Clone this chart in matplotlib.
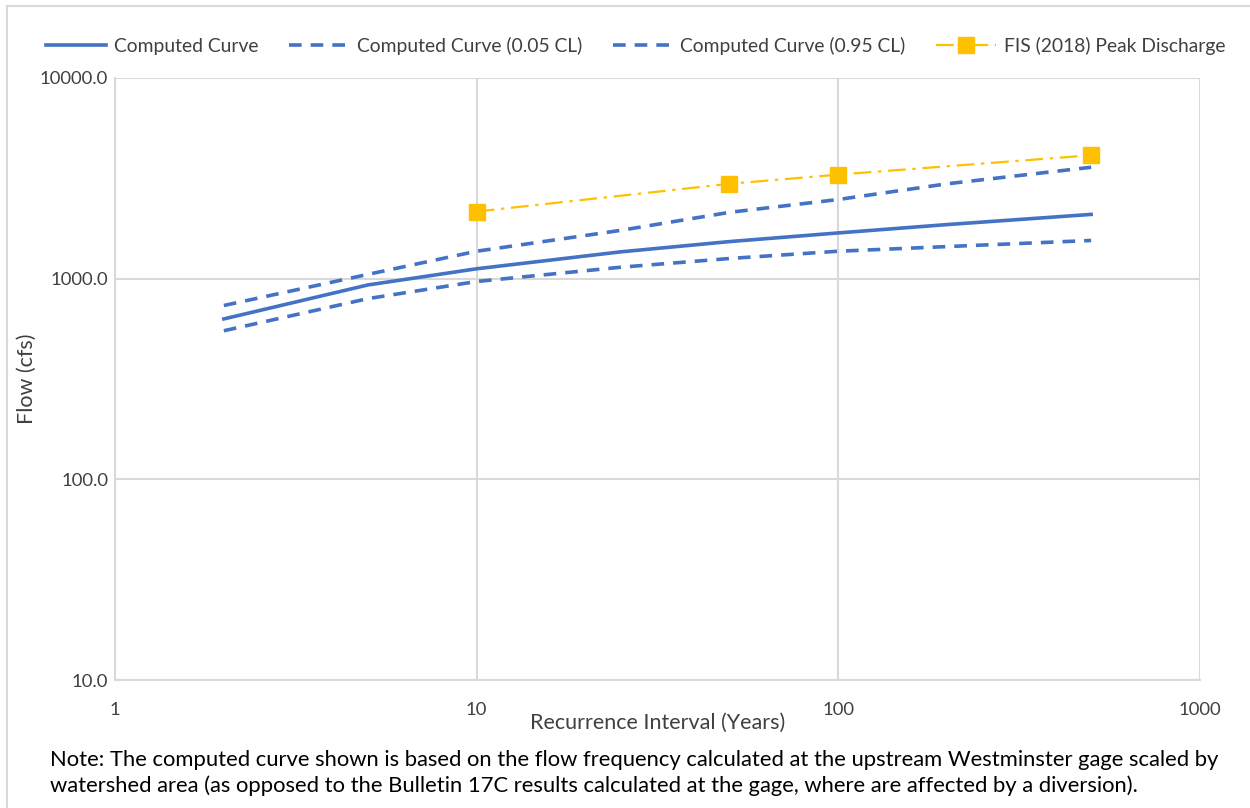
import matplotlib
matplotlib.use("Agg")
import matplotlib.pyplot as plt
from matplotlib.lines import Line2D
from matplotlib.ticker import FixedLocator, FixedFormatter, NullLocator

plt.rcParams['font.family'] = ['Lato', 'DejaVu Sans']

# Datos
intervalo = [2, 5, 10, 25, 50, 100, 200, 500]
curva = [630, 930, 1120, 1360, 1530, 1690, 1860, 2090]
curva_005 = [735, 1050, 1370, 1740, 2140, 2480, 2970, 3590]
curva_095 = [550, 795, 968, 1140, 1260, 1370, 1445, 1550]

fis_intervalo = [10, 50, 100, 500]
fis_caudal = [2160, 2970, 3300, 4120]

x_ticks = [1, 10, 100, 1000]
x_labels = ['1', '10', '100', '1000']
y_ticks = [10, 100, 1000, 10000]
y_labels = ['10.0', '100.0', '1000.0', '10000.0']

azul = '#4472C4'
oro = '#FFC000'
gris = '#D9D9D9'
texto = '#404040'

fig = plt.figure(figsize=(12.5, 8.08), dpi=100)
ax = fig.add_axes([0.092, 0.1584, 0.868, 0.7451])

ax.plot(intervalo, curva, color=azul, lw=2.6, label='Computed Curve', zorder=3)
ax.plot(intervalo, curva_005, color=azul, lw=2.6, ls=(0, (3.5, 2.5)),
        label='Computed Curve (0.05 CL)', zorder=3)
ax.plot(intervalo, curva_095, color=azul, lw=2.6, ls=(0, (3.5, 2.5)),
        label='Computed Curve (0.95 CL)', zorder=3)
ax.plot(fis_intervalo, fis_caudal, color=oro, lw=1.6, ls=(0, (8, 3, 1.5, 3)),
        marker='s', ms=11, mec=oro, mfc=oro, label='FIS (2018) Peak Discharge', zorder=4)

ax.set_xscale('log')
ax.set_yscale('log')
ax.set_xlim(1, 1000)
ax.set_ylim(10, 10000)
ax.xaxis.set_major_locator(FixedLocator(x_ticks))
ax.xaxis.set_major_formatter(FixedFormatter(x_labels))
ax.yaxis.set_major_locator(FixedLocator(y_ticks))
ax.yaxis.set_major_formatter(FixedFormatter(y_labels))
ax.xaxis.set_minor_locator(NullLocator())
ax.yaxis.set_minor_locator(NullLocator())

ax.grid(True, color=gris, lw=1.5)
ax.set_axisbelow(True)
for lado in ['top', 'right']:
    ax.spines[lado].set_visible(False)
for lado in ['left', 'bottom']:
    ax.spines[lado].set_color(gris)
    ax.spines[lado].set_linewidth(1.5)
ax.tick_params(length=0, labelsize=13.3, colors=texto)
ax.tick_params(axis='y', pad=5)
ax.tick_params(axis='x', pad=16)

ax.set_xlabel('Recurrence Interval (Years)', fontsize=15.5, color=texto, labelpad=-4)
ax.set_ylabel('Flow (cfs)', fontsize=15.5, color=texto, labelpad=2)

leg = ax.legend(loc='center', bbox_to_anchor=(0.48, 1.053), ncol=4, frameon=False,
                fontsize=13.9, handlelength=3.1, columnspacing=1.6, handletextpad=0.4)
for t in leg.get_texts():
    t.set_color(texto)

nota = ('Note: The computed curve shown is based on the flow frequency calculated at the upstream Westminster gage scaled by\n'
        'watershed area (as opposed to the Bulletin 17C results calculated at the gage, where are affected by a diversion).')
fig.text(0.04, 0.015, nota, fontsize=15.8, color='#000000', linespacing=1.3, ha='left', va='bottom')

# borde del área del gráfico
fig.add_artist(Line2D([7/1250, 1], [1 - 6/808, 1 - 6/808], color=gris, lw=1.5))
fig.add_artist(Line2D([7/1250, 7/1250], [0, 1 - 6/808], color=gris, lw=1.5))

fig.savefig('out.png', dpi=100)
